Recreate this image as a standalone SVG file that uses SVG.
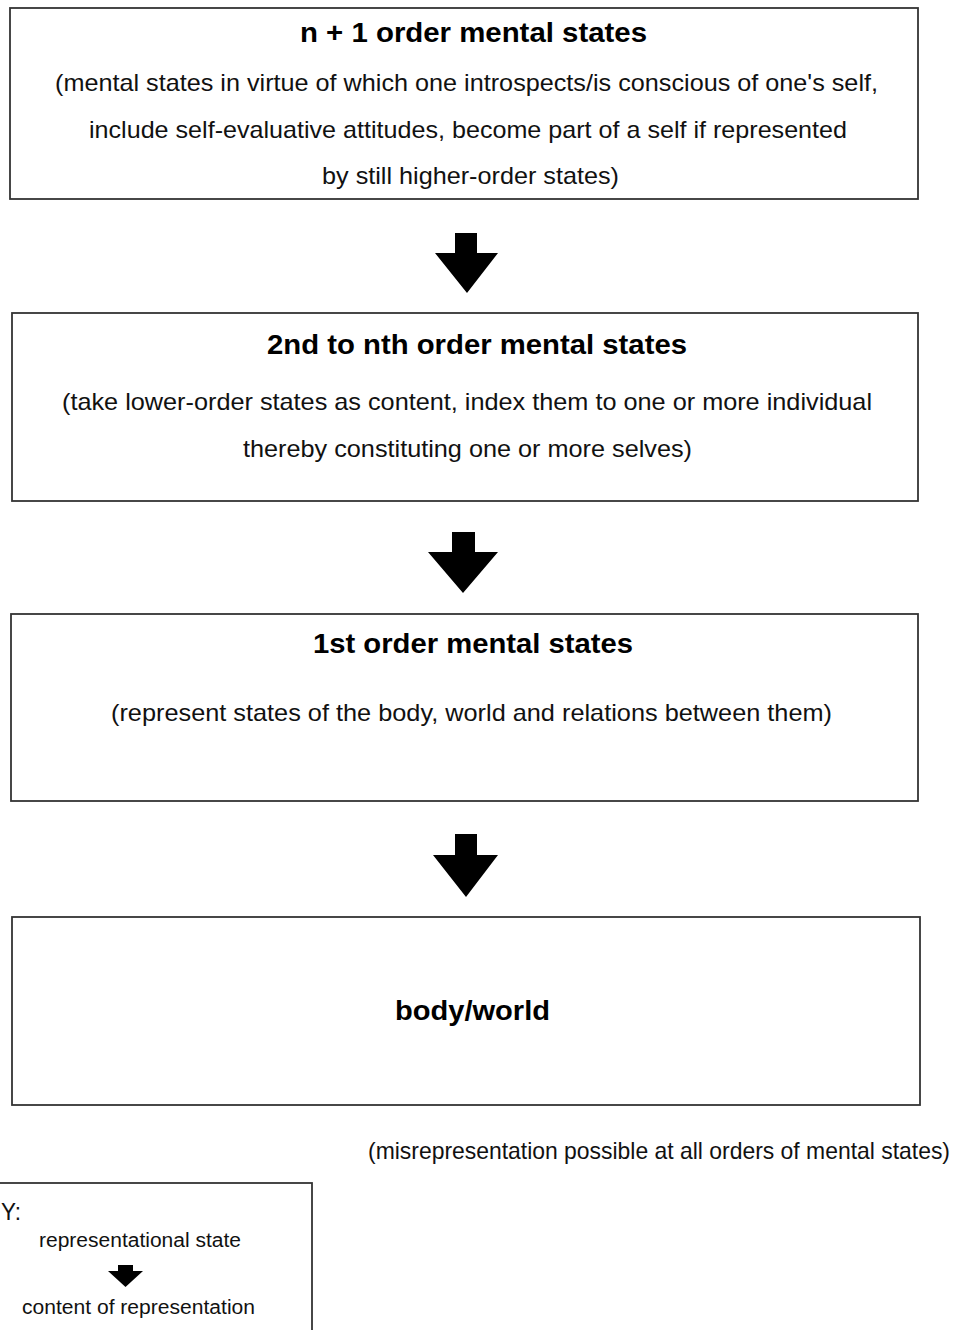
<svg xmlns="http://www.w3.org/2000/svg" width="956" height="1330" viewBox="0 0 956 1330">
<style>
.box{fill:#fff;stroke:#333;stroke-width:1.8}
.t{font-family:"Liberation Sans",Arial,sans-serif;font-weight:bold;font-size:28px;fill:#000;text-anchor:middle}
.b{font-family:"Liberation Sans",Arial,sans-serif;font-size:24px;fill:#111;text-anchor:middle}
.k{font-family:"Liberation Sans",Arial,sans-serif;font-size:20px;fill:#111;text-anchor:middle}
.arr{fill:#000}
</style>
<rect width="956" height="1330" fill="#fff"/>
<g id="node-n1">
<rect class="box" x="10" y="8" width="908" height="191"/>
<text class="t" x="473.5" y="42" textLength="347" lengthAdjust="spacingAndGlyphs">n + 1 order mental states</text>
<text class="b" x="466.5" y="91" textLength="823" lengthAdjust="spacingAndGlyphs">(mental states in virtue of which one introspects/is conscious of one's self,</text>
<text class="b" x="468" y="138" textLength="758" lengthAdjust="spacingAndGlyphs">include self-evaluative attitudes, become part of a self if represented</text>
<text class="b" x="470.5" y="184" textLength="297" lengthAdjust="spacingAndGlyphs">by still higher-order states)</text>
</g>
<g id="node-2n">
<rect class="box" x="12" y="313" width="906" height="188"/>
<text class="t" x="477" y="354" textLength="420" lengthAdjust="spacingAndGlyphs">2nd to nth order mental states</text>
<text class="b" x="467" y="410" textLength="810" lengthAdjust="spacingAndGlyphs">(take lower-order states as content, index them to one or more individual</text>
<text class="b" x="467.5" y="457" textLength="449" lengthAdjust="spacingAndGlyphs">thereby constituting one or more selves)</text>
</g>
<g id="node-1st">
<rect class="box" x="11" y="614" width="907" height="187"/>
<text class="t" x="473" y="653" textLength="320" lengthAdjust="spacingAndGlyphs">1st order mental states</text>
<text class="b" x="471.5" y="721" textLength="721" lengthAdjust="spacingAndGlyphs">(represent states of the body, world and relations between them)</text>
</g>
<g id="node-body">
<rect class="box" x="12" y="917" width="908" height="188"/>
<text class="t" x="472.5" y="1020" textLength="155" lengthAdjust="spacingAndGlyphs">body/world</text>
</g>
<g id="note">
<text class="b" x="950" y="1159" font-size="22" style="text-anchor:end" textLength="582" lengthAdjust="spacingAndGlyphs">(misrepresentation possible at all orders of mental states)</text>
</g>
<g id="key">
<rect class="box" x="-5" y="1183" width="317" height="200"/>
<text class="b" x="11" y="1220" textLength="20" lengthAdjust="spacingAndGlyphs" font-size="25">Y:</text>
<text class="k" x="140" y="1247" textLength="202" lengthAdjust="spacingAndGlyphs">representational state</text>
<polygon class="arr" points="118,1265 133,1265 133,1271 143,1271 125.5,1287 108,1271 118,1271"/>
<text class="k" x="138.5" y="1314" textLength="233" lengthAdjust="spacingAndGlyphs">content of representation</text>
</g>
<g id="connectors">
<polygon class="arr" points="455,233 477,233 477,253 498,253 467,293 435,253 455,253"/>
<polygon class="arr" points="452,532 475,532 475,552 498,552 463,593 428,552 452,552"/>
<polygon class="arr" points="455,834 477,834 477,855 498,855 466,897 433,855 455,855"/>
</g>
</svg>
